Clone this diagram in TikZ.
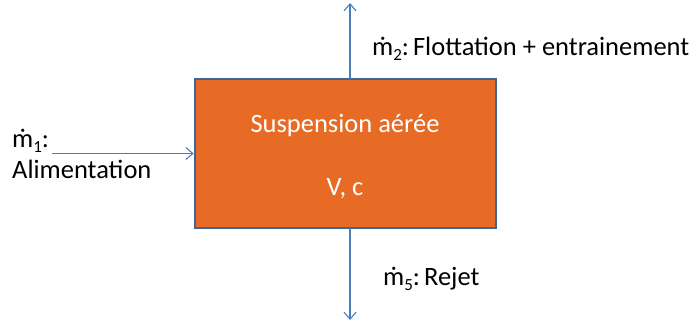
\documentclass[tikz,border=0pt]{standalone}
\usepackage{fontspec}
\setmainfont{Carlito}
\usetikzlibrary{arrows.meta}
\definecolor{boxorange}{HTML}{E76B24}
\definecolor{boxborder}{HTML}{3E6499}
\definecolor{arrowblue}{HTML}{4A7EBB}
\newcommand{\lowsub}[1]{\raisebox{-0.22em}{\fontsize{17}{20}\selectfont #1}}
\tikzset{
  flow/.style={draw=arrowblue, line width=1.1pt, -{Straight Barb[length=7pt,width=12pt,line width=1.1pt]}},
  lbl/.style={font=\fontsize{26.5}{31}\selectfont, inner sep=0pt, anchor=base west},
  boxlbl/.style={font=\fontsize{26.5}{31}\selectfont, inner sep=0pt, anchor=base, text=white}
}
\begin{document}
\begin{tikzpicture}[x=1pt,y=1pt]
\useasboundingbox (0,0) rectangle (698,325);
\node[draw=boxborder, fill=boxorange, line width=2.6pt, minimum width=301pt, minimum height=149pt, inner sep=0pt] (box) at (345.5,171.5) {};
\node[boxlbl] (t1) at (345,193) {Suspension aérée};
\node[boxlbl] (t2) at (345,130) {V, c};
\coordinate (in) at (52,171.5);
\coordinate (top) at (350,322);
\coordinate (bot) at (350,5);
\coordinate (boxtop) at (350,246);
\coordinate (boxbot) at (350,97);
\draw[flow] (in) -- (box.west);
\draw[flow] (boxtop) -- (top);
\draw[flow] (boxbot) -- (bot);
\node[lbl] (m1) at (12,178) {ṁ\lowsub{1}:};
\node[lbl] (alim) at (12,147) {Alimentation};
\node[lbl] (m2) at (372,270) {ṁ\lowsub{2}:\hspace{4pt}Flottation + entrainement};
\node[lbl] (m5) at (383,40) {ṁ\lowsub{5}:\hspace{4pt}Rejet};
\end{tikzpicture}
\end{document}
